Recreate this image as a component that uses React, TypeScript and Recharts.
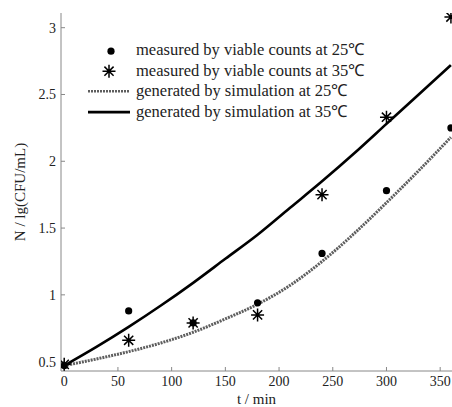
import React from 'react';
import { ComposedChart, Line, Scatter, XAxis, YAxis } from 'recharts';

const curveTimes = [0, 30, 60, 90, 120, 150, 180, 210, 240, 270, 300, 330, 360];
const sim25 = [0.47, 0.52, 0.575, 0.64, 0.72, 0.82, 0.93, 1.07, 1.25, 1.46, 1.69, 1.93, 2.18];
const sim35 = [0.47, 0.61, 0.76, 0.92, 1.09, 1.27, 1.45, 1.65, 1.85, 2.06, 2.28, 2.5, 2.72];

const measTimes = [0, 60, 120, 180, 240, 300, 360];
const meas25 = [0.47, 0.88, 0.79, 0.94, 1.31, 1.78, 2.25];
const meas35 = [0.48, 0.66, 0.79, 0.85, 1.75, 2.33, 3.08];

const xTicks = [0, 50, 100, 150, 200, 250, 300, 350];
const yTicks = [0.5, 1, 1.5, 2, 2.5, 3];

const legendLabels = [
  'measured by viable counts at 25\u2103',
  'measured by viable counts at 35\u2103',
  'generated by simulation at 25\u2103',
  'generated by simulation at 35\u2103',
];

const lineData = curveTimes.map((t, i) => ({ t, s25: sim25[i], s35: sim35[i] }));
const dots25 = measTimes.map((t, i) => ({ t, v: meas25[i] }));
const stars35 = measTimes.map((t, i) => ({ t, v: meas35[i] }));

const FONT = '"Liberation Serif", "Times New Roman", serif';
const GRAY25 = '#5e5e5e';

const Dot = (props: any) => {
  const { cx, cy } = props;
  if (cx == null || cy == null) return null;
  return <circle cx={cx} cy={cy} r={3.6} fill="#000" />;
};

const starPath = (cx: number, cy: number, r: number) => {
  const d = r * 0.7071;
  return `M${cx - r},${cy}L${cx + r},${cy}M${cx},${cy - r}L${cx},${cy + r}M${cx - d},${cy - d}L${cx + d},${cy + d}M${cx - d},${cy + d}L${cx + d},${cy - d}`;
};

const Star = (props: any) => {
  const { cx, cy } = props;
  if (cx == null || cy == null) return null;
  return <path d={starPath(cx, cy, 6.5)} stroke="#000" strokeWidth={1.5} fill="none" />;
};

const LegendBox = () => {
  const rowH = 20.4;
  return (
    <div
      style={{
        position: 'absolute',
        left: 88,
        top: 40.5,
        fontFamily: FONT,
        fontSize: 16.5,
        color: '#222',
        lineHeight: 1,
      }}
    >
      {legendLabels.map((lab, i) => (
        <div key={i} style={{ height: rowH, display: 'flex', alignItems: 'center' }}>
          <svg width={48} height={rowH} style={{ display: 'block', flex: 'none' }}>
            {i === 0 && <circle cx={23} cy={rowH / 2} r={3.6} fill="#000" />}
            {i === 1 && <path d={starPath(21, rowH / 2, 6.5)} stroke="#000" strokeWidth={1.5} fill="none" />}
            {i === 2 && (
              <line x1={0} x2={42} y1={rowH / 2} y2={rowH / 2} stroke={GRAY25} strokeWidth={2.5} strokeDasharray="2 1" />
            )}
            {i === 3 && <line x1={0} x2={42} y1={rowH / 2} y2={rowH / 2} stroke="#000" strokeWidth={2.8} />}
          </svg>
          <span style={{ whiteSpace: 'nowrap' }}>{lab}</span>
        </div>
      ))}
    </div>
  );
};

export default function App() {
  return (
    <div style={{ position: 'absolute', left: 0, top: 0, width: 452, height: 407, background: '#fff' }}>
      <ComposedChart width={452} height={407} margin={{ top: 13, right: 0, bottom: 0, left: 0 }} data={lineData}>
        <XAxis
          type="number"
          dataKey="t"
          domain={[-3, 361]}
          ticks={xTicks}
          allowDataOverflow
          height={36}
          tickSize={-4}
          tickMargin={9}
          stroke="#888"
          tick={{ fill: '#222', fontFamily: FONT, fontSize: 14 }}
          label={{ value: 't / min', position: 'insideBottom', offset: 3, style: { fontFamily: FONT, fontSize: 15, fill: '#222' } }}
        />
        <YAxis
          type="number"
          domain={[0.43, 3.11]}
          ticks={yTicks}
          allowDataOverflow
          width={61}
          tickSize={-4}
          tickMargin={9}
          stroke="#888"
          tick={{ fill: '#222', fontFamily: FONT, fontSize: 14 }}
          label={{
            value: 'N / lg(CFU/mL)',
            angle: -90,
            position: 'insideLeft',
            offset: 20,
            style: { fontFamily: FONT, fontSize: 15, fill: '#222', textAnchor: 'middle' },
          }}
        />
        <Line
          dataKey="s25"
          type="monotone"
          stroke={GRAY25}
          strokeWidth={3}
          strokeDasharray="2 1"
          dot={false}
          activeDot={false}
          isAnimationActive={false}
        />
        <Line
          dataKey="s35"
          type="monotone"
          stroke="#000"
          strokeWidth={2.6}
          dot={false}
          activeDot={false}
          isAnimationActive={false}
        />
        <Scatter data={dots25} dataKey="v" shape={<Dot />} isAnimationActive={false} />
        <Scatter data={stars35} dataKey="v" shape={<Star />} isAnimationActive={false} />
      </ComposedChart>
      <LegendBox />
    </div>
  );
}
